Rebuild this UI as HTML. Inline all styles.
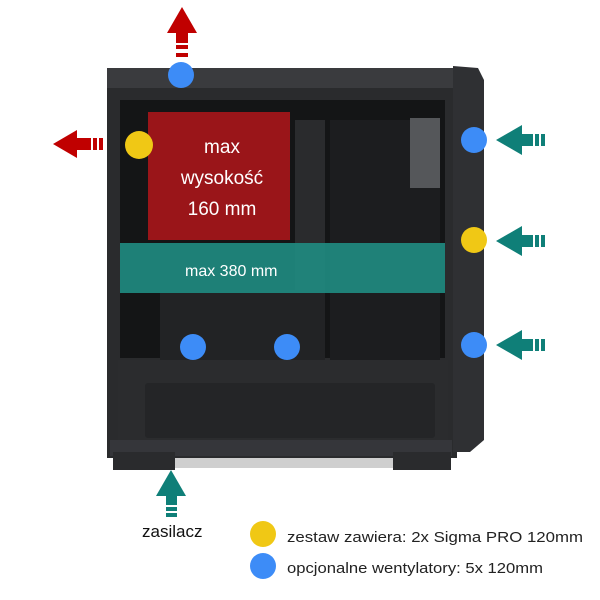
<!DOCTYPE html>
<html><head><meta charset="utf-8"><style>
html,body{margin:0;padding:0;background:#fff;}
svg{display:block;font-family:"Liberation Sans",sans-serif;}
</style></head><body>
<svg width="600" height="600" viewBox="0 0 600 600" xmlns="http://www.w3.org/2000/svg">
<rect width="600" height="600" fill="#fff"/>
<!-- base plate -->
<rect x="170" y="452" width="230" height="16" fill="#cfcfcf"/>
<!-- case body -->
<rect x="107" y="68" width="350" height="390" fill="#2a2b2d"/>
<rect x="107" y="68" width="350" height="20" fill="#3a3b3e"/>
<polygon points="453,66 478,68 484,80 484,440 470,452 453,452" fill="#2f3033"/>
<!-- interior -->
<rect x="120" y="100" width="325" height="258" fill="#141516"/>
<rect x="295" y="120" width="30" height="240" fill="#2a2b2d"/>
<rect x="330" y="120" width="110" height="240" fill="#1c1d1f"/>
<rect x="410" y="118" width="30" height="70" fill="#55575a"/>
<rect x="160" y="290" width="165" height="70" fill="#222325"/>
<!-- PSU shroud -->
<rect x="118" y="360" width="330" height="85" fill="#2b2c2e"/>
<rect x="145" y="383" width="290" height="55" rx="3" fill="#242527"/>
<!-- bottom rail -->
<rect x="110" y="440" width="342" height="16" fill="#35363a"/>
<!-- feet -->
<rect x="113" y="452" width="62" height="18" fill="#2a2b2d"/>
<rect x="393" y="452" width="58" height="18" fill="#2a2b2d"/>
<!-- red box -->
<rect x="148" y="112" width="142" height="128" fill="#a5161a" opacity="0.93"/>
<text x="222" y="153" fill="#fff" font-size="19" text-anchor="middle">max</text>
<text x="222" y="184" fill="#fff" font-size="19" text-anchor="middle">wysokość</text>
<text x="222" y="215" fill="#fff" font-size="19" text-anchor="middle">160 mm</text>
<!-- teal band -->
<rect x="120" y="243" width="325" height="50" fill="#1f8a80" opacity="0.92"/>
<text x="185" y="276" fill="#fff" font-size="16">max 380 mm</text>
<!-- red up arrow -->
<polygon points="182,7 197,33 167,33" fill="#c00000"/>
<rect x="176" y="33" width="12" height="10" fill="#c00000"/>
<rect x="176" y="45" width="12" height="4" fill="#c00000"/>
<rect x="176" y="53" width="12" height="4" fill="#c00000"/>
<!-- red left arrow -->
<polygon points="53,144 77,130 77,158" fill="#c00000"/>
<rect x="77" y="138" width="14" height="12" fill="#c00000"/>
<rect x="93" y="138" width="4" height="12" fill="#c00000"/>
<rect x="99" y="138" width="4" height="12" fill="#c00000"/>
<!-- teal left arrows -->
<g fill="#0f7f78">
<polygon points="496,140 522,125 522,155"/><rect x="522" y="134" width="11" height="12"/><rect x="535" y="134" width="4" height="12"/><rect x="541" y="134" width="4" height="12"/>
<polygon points="496,241 522,226 522,256"/><rect x="522" y="235" width="11" height="12"/><rect x="535" y="235" width="4" height="12"/><rect x="541" y="235" width="4" height="12"/>
<polygon points="496,345 522,330 522,360"/><rect x="522" y="339" width="11" height="12"/><rect x="535" y="339" width="4" height="12"/><rect x="541" y="339" width="4" height="12"/>
<!-- teal up arrow -->
<polygon points="171,470 186,496 156,496"/><rect x="166" y="496" width="11" height="9"/><rect x="166" y="507" width="11" height="4"/><rect x="166" y="513" width="11" height="4"/>
</g>
<!-- circles -->
<g fill="#3d8cf7">
<circle cx="181" cy="75" r="13"/><circle cx="474" cy="140" r="13"/><circle cx="474" cy="345" r="13"/>
<circle cx="193" cy="347" r="13"/><circle cx="287" cy="347" r="13"/>
<circle cx="263" cy="566" r="13"/>
</g>
<g fill="#f0c815">
<circle cx="139" cy="145" r="14"/><circle cx="474" cy="240" r="13"/><circle cx="263" cy="534" r="13"/>
</g>
<text x="142" y="537" font-size="17" fill="#111">zasilacz</text>
<text x="287" y="542" font-size="15" fill="#222" textLength="296" lengthAdjust="spacingAndGlyphs">zestaw zawiera: 2x Sigma PRO 120mm</text>
<text x="287" y="573" font-size="15" fill="#222" textLength="256" lengthAdjust="spacingAndGlyphs">opcjonalne wentylatory: 5x 120mm</text>
</svg>
</body></html>
